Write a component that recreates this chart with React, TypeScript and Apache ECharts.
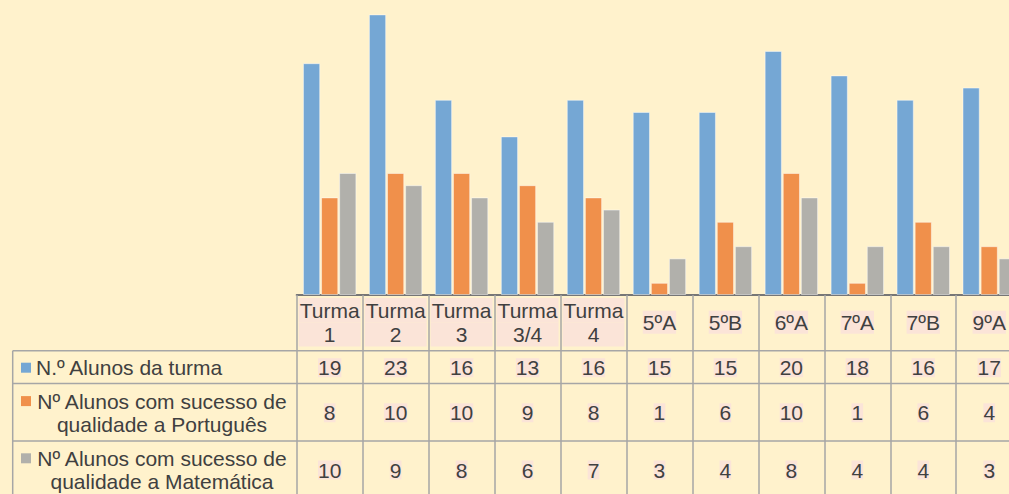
import React, { useEffect, useRef } from 'react';
import * as echarts from 'echarts';

const categories = ['Turma 1', 'Turma 2', 'Turma 3', 'Turma 3/4', 'Turma 4', '5ºA', '5ºB', '6ºA', '7ºA', '7ºB', '9ºA'];
const alunosTurma = [19, 23, 16, 13, 16, 15, 15, 20, 18, 16, 17];
const sucessoPortugues = [8, 10, 10, 9, 8, 1, 6, 10, 1, 6, 4];
const sucessoMatematica = [10, 9, 8, 6, 7, 3, 4, 8, 4, 4, 3];
const seriesNames = [
  'N.º Alunos da turma',
  'Nº Alunos com sucesso de qualidade a Português',
  'Nº Alunos com sucesso de qualidade a Matemática',
];
const legendLabels = [
  'N.º Alunos da turma',
  'Nº Alunos com sucesso de\nqualidade a Português',
  'Nº Alunos com sucesso de\nqualidade a Matemática',
];
const colors = ['#75A7D4', '#F0904B', '#B1B0AB'];

const FONT = '"Liberation Sans", Arial, sans-serif';
const TEXT = '#404040';
const PINK = '#FBE4D8';
const LINE = '#A6A6A6';

export default function App() {
  const ref = useRef<HTMLDivElement>(null);
  useEffect(() => {
    if (!ref.current) return;
    const chart = echarts.init(ref.current, null, { renderer: 'svg' });
    const rows = [alunosTurma, sucessoPortugues, sucessoMatematica];
    const rowMargins = [72.7, 117.8, 175];
    const rowCenters = [367.7, 412.8, 470];
    const hLines = [350.7, 383.5, 441];

    const graphic: any[] = [];
    hLines.forEach((y) => {
      graphic.push({
        type: 'line',
        shape: { x1: 12.7, y1: y, x2: 1009, y2: y },
        style: { stroke: LINE, lineWidth: 1.5 },
        silent: true,
      });
    });
    graphic.push({
      type: 'line',
      shape: { x1: 12.7, y1: 350.7, x2: 12.7, y2: 494 },
      style: { stroke: LINE, lineWidth: 1.5 },
      silent: true,
    });
    legendLabels.forEach((lab, i) => {
      const cy = rowCenters[i];
      const multi = lab.indexOf('\n') >= 0;
      const markerY = multi ? cy - 11.7 : cy;
      graphic.push({
        type: 'rect',
        shape: { x: 21, y: markerY - 5, width: 10, height: 10 },
        style: { fill: colors[i] },
        silent: true,
      });
      graphic.push({
        type: 'text',
        x: multi ? 162 : 36,
        y: cy,
        style: {
          text: lab,
          font: `21px ${FONT}`,
          fill: TEXT,
          align: multi ? 'center' : 'left',
          verticalAlign: 'middle',
          lineHeight: 23.3,
        },
        silent: true,
      });
    });

    const option: any = {
      animation: false,
      backgroundColor: '#FFF2CC',
      grid: { left: 296.7, top: 2.2, width: 725.5, height: 292.8, outerBoundsMode: 'none', containLabel: false },
      xAxis: [
        {
          type: 'category',
          data: categories,
          position: 'bottom',
          axisLine: { show: true, lineStyle: { color: '#767676', width: 2 } },
          axisTick: { show: true, length: 200, lineStyle: { color: LINE, width: 1.5 } },
          axisLabel: {
            interval: 0,
            hideOverlap: false,
            margin: 27.3,
            verticalAlign: 'middle',
            formatter: (v: string) =>
              v.startsWith('Turma') ? `{t|${v.replace(' ', '\n')}}` : `{h|${v}}`,
            rich: {
              t: {
                width: 62,
                height: 24.3,
                lineHeight: 24.3,
                align: 'center',
                backgroundColor: PINK,
                fontSize: 21,
                fontFamily: FONT,
                color: TEXT,
              },
              h: {
                height: 23,
                backgroundColor: PINK,
                fontSize: 21,
                fontFamily: FONT,
                color: TEXT,
              },
            },
          },
        },
        ...rows.map((vals, r) => ({
          type: 'category',
          data: categories,
          position: 'bottom',
          axisLine: { show: false },
          axisTick: { show: false },
          splitLine: { show: false },
          axisLabel: {
            interval: 0,
            hideOverlap: false,
            margin: rowMargins[r],
            verticalAlign: 'middle',
            formatter: (_v: string, i: number) => `{n|${vals[i]}}`,
            rich: {
              n: {
                height: 19,
                backgroundColor: PINK,
                fontSize: 21,
                fontFamily: FONT,
                color: TEXT,
              },
            },
          },
        })),
      ],
      yAxis: {
        type: 'value',
        min: 0,
        max: 24,
        show: false,
        splitLine: { show: false },
      },
      series: rows.map((vals, i) => ({
        type: 'bar',
        name: seriesNames[i],
        data: vals,
        xAxisIndex: 0,
        yAxisIndex: 0,
        barGap: '5%',
        barCategoryGap: '19%',
        itemStyle: { color: colors[i], borderColor: 'rgba(255,255,255,0.45)', borderWidth: 1 },
      })),
      graphic,
    };
    chart.setOption(option);
    return () => chart.dispose();
  }, []);
  return (
    <div
      ref={ref}
      style={{ position: 'fixed', left: 0, top: 0, width: 1009, height: 494 }}
    />
  );
}
